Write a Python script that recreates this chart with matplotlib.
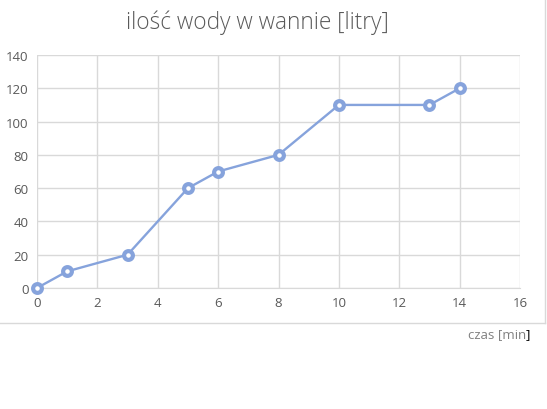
import matplotlib
matplotlib.use("Agg")
import matplotlib.pyplot as plt
from matplotlib.lines import Line2D

czas = [0, 1, 3, 5, 6, 8, 10, 13, 14]
woda = [0, 10, 20, 60, 70, 80, 110, 110, 120]
x_ticks = [0, 2, 4, 6, 8, 10, 12, 14, 16]
y_ticks = [0, 20, 40, 60, 80, 100, 120, 140]

plt.rcParams['font.family'] = ['Open Sans', 'DejaVu Sans']

fig = plt.figure(figsize=(5.47, 4.10), dpi=100)
ax = fig.add_axes([37/547, 1-289/410, (520-37)/547, (289-56)/410])

line_col = '#86a3dc'
ax.plot(czas, woda, color=line_col, lw=1.7, marker='o', markersize=6.3,
        markerfacecolor='white', markeredgecolor=line_col, markeredgewidth=3.0,
        zorder=3, clip_on=False)

ax.set_xlim(0, 16)
ax.set_ylim(0, 140)
ax.set_xticks(x_ticks)
ax.set_yticks(y_ticks)
ax.grid(True, color='#d9d9d9', lw=1)
ax.set_axisbelow(True)
for s in ['top', 'right', 'left']:
    ax.spines[s].set_visible(False)
ax.spines['bottom'].set_color('#d9d9d9')
ax.tick_params(length=0, colors='#595959', labelsize=9.5, pad=6)

fig.text(257/547, 1-23/410, 'ilość wody w wannie [litry]', ha='center', va='center',
         fontsize=16.3, color='#595959', fontweight='light')
fig.text(526/547, 1-335/410, 'czas [min', ha='right', va='center',
         fontsize=9.5, color='#808080')
fig.text(526/547, 1-335/410, ']', ha='left', va='center',
         fontsize=9.5, color='#000000')

# outer frame pieces
fig.add_artist(Line2D([545/547, 545/547], [1, 1-324/410], color='#d9d9d9', lw=1,
                      transform=fig.transFigure))
fig.add_artist(Line2D([0, 545/547], [1-324/410, 1-324/410], color='#d9d9d9', lw=1,
                      transform=fig.transFigure))

fig.savefig('out.png', dpi=100, facecolor='white')
